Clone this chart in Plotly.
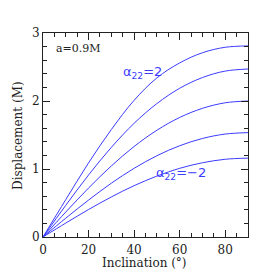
import plotly.graph_objects as go

inclination = [0, 10, 20, 30, 40, 50, 60, 70, 80, 90]
disp_a22_p2 = [0, 0.55, 1.09, 1.58, 2.01, 2.34, 2.56, 2.71, 2.79, 2.81]
disp_a22_p1 = [0, 0.466, 0.912, 1.318, 1.672, 1.962, 2.187, 2.345, 2.44, 2.47]
disp_a22_0 = [0, 0.367, 0.72, 1.045, 1.331, 1.57, 1.758, 1.892, 1.974, 2.00]
disp_a22_m1 = [0, 0.277, 0.543, 0.791, 1.010, 1.195, 1.342, 1.449, 1.514, 1.535]
disp_a22_m2 = [0, 0.205, 0.404, 0.589, 0.755, 0.896, 1.010, 1.092, 1.143, 1.16]
series = [disp_a22_p2, disp_a22_p1, disp_a22_0, disp_a22_m1, disp_a22_m2]

x_ticks = [0, 20, 40, 60, 80]
y_ticks = [0, 1, 2, 3]

line_color = "#3b3bff"
serif = "DejaVu Serif, Liberation Serif, serif"
sans = "DejaVu Sans, Liberation Sans, sans-serif"
ink = "#222"

fig = go.Figure()
for s in series:
    fig.add_trace(go.Scatter(x=inclination, y=s, mode="lines",
                             line=dict(color=line_color, width=1, shape="spline"),
                             showlegend=False, hoverinfo="skip"))

axis_common = dict(
    showgrid=False, zeroline=False, showline=True, linecolor=ink, linewidth=1,
    mirror="allticks", ticks="inside", ticklen=7, tickcolor=ink, tickwidth=1,
    tickfont=dict(family=serif, size=12, color=ink), automargin=False,
)

fig.update_xaxes(range=[0, 90], tickvals=x_ticks, ticklabelstandoff=2,
                 minor=dict(ticks="inside", ticklen=4, dtick=5, tick0=0, tickcolor=ink, showgrid=False),
                 **axis_common)
fig.update_yaxes(range=[0, 3], tickvals=y_ticks,
                 minor=dict(ticks="inside", ticklen=4, dtick=0.2, tick0=0, tickcolor=ink, showgrid=False),
                 **axis_common)

fig.add_annotation(x=0.496, y=-0.125, xref="paper", yref="paper", text="Inclination (°)",
                   showarrow=False, xanchor="center", yanchor="middle",
                   font=dict(family=serif, size=12, color=ink))
fig.add_annotation(x=-0.122, y=0.5, xref="paper", yref="paper", text="Displacement (M)",
                   showarrow=False, xanchor="center", yanchor="middle", textangle=-90,
                   font=dict(family=serif, size=12, color=ink))

fig.add_annotation(x=5, y=2.775, text="a=0.9M", showarrow=False, xanchor="left", yanchor="middle",
                   font=dict(family=serif, size=11, color=ink))
fig.add_annotation(x=34.3, y=2.42, text="α<sub>22</sub>=2", showarrow=False, xanchor="left", yanchor="middle",
                   font=dict(family=sans, size=13, color=line_color))
fig.add_annotation(x=48.8, y=0.93, text="α<sub>22</sub>=−2", showarrow=False, xanchor="left", yanchor="middle",
                   font=dict(family=sans, size=13, color=line_color))

# page body adds an 8px offset; size the figure so the plot lands where the reference has it
fig.update_layout(width=272, height=272, margin=dict(l=35, r=32, t=25, b=43),
                  paper_bgcolor="white", plot_bgcolor="white")

fig.write_html("out.html")
